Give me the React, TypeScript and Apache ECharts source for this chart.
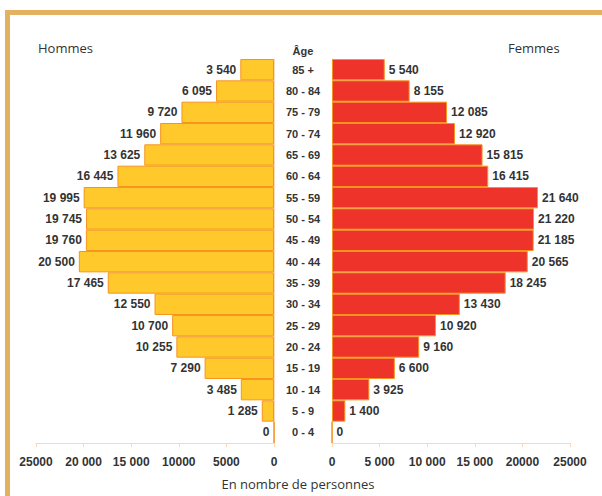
import React, { useEffect, useRef } from "react";
import * as echarts from "echarts";

const ageGroups = ["0 - 4", "5 - 9", "10 - 14", "15 - 19", "20 - 24", "25 - 29", "30 - 34", "35 - 39", "40 - 44", "45 - 49", "50 - 54", "55 - 59", "60 - 64", "65 - 69", "70 - 74", "75 - 79", "80 - 84", "85 +"];
const hommes = [0, 1285, 3485, 7290, 10255, 10700, 12550, 17465, 20500, 19760, 19745, 19995, 16445, 13625, 11960, 9720, 6095, 3540];
const femmes = [0, 1400, 3925, 6600, 9160, 10920, 13430, 18245, 20565, 21185, 21220, 21640, 16415, 15815, 12920, 12085, 8155, 5540];
const leftTickLabels = ["0", "5000", "10000", "15 000", "20 000", "25000"];
const rightTickLabels = ["0", "5 000", "10 000", "15 000", "20000", "25000"];

const fmt = (v: number) => {
  const s = String(v);
  return s.length > 3 ? s.slice(0, s.length - 3) + " " + s.slice(-3) : s;
};

const LABEL_FONT = "'Liberation Sans', Arial, sans-serif";
const TEXT_FONT = "'Open Sans', 'Noto Sans', sans-serif";
const AXIS_COLOR = "#FCD7BD";

export default function App() {
  const ref = useRef<HTMLDivElement>(null);
  useEffect(() => {
    if (!ref.current) return;
    const chart = echarts.init(ref.current, undefined, { renderer: "svg" });
    const valueAxisCommon = {
      type: "value" as const,
      min: 0,
      max: 25000,
      interval: 5000,
      splitLine: { show: false },
      axisLine: { show: true, lineStyle: { color: AXIS_COLOR, width: 1 } },
      axisTick: { show: true, length: 4, lineStyle: { color: AXIS_COLOR } },
    };
    const catAxisCommon = {
      type: "category" as const,
      data: ageGroups,
      axisTick: { show: false },
      axisLine: { show: true, lineStyle: { color: AXIS_COLOR } },
    };
    const tickLabelStyle = {
      margin: 13,
      color: "#333",
      fontFamily: LABEL_FONT,
      fontWeight: "bold" as const,
      fontSize: 12,
    };
    const valueLabelStyle = {
      show: true,
      distance: 4,
      color: "#333",
      fontFamily: LABEL_FONT,
      fontWeight: "bold" as const,
      fontSize: 12,
      formatter: (p: any) => fmt(p.value),
    };
    chart.setOption({
      animation: false,
      backgroundColor: "#ffffff",
      grid: [
        { left: 36, right: 328, top: 59, bottom: 53 },
        { left: 332, right: 32, top: 59, bottom: 53 },
      ],
      xAxis: [
        {
          ...valueAxisCommon,
          gridIndex: 0,
          inverse: true,
          axisLabel: { ...tickLabelStyle, formatter: (v: number) => leftTickLabels[Math.round(v / 5000)] },
        },
        {
          ...valueAxisCommon,
          gridIndex: 1,
          axisLabel: { ...tickLabelStyle, formatter: (v: number) => rightTickLabels[Math.round(v / 5000)] },
        },
      ],
      yAxis: [
        {
          ...catAxisCommon,
          gridIndex: 0,
          position: "right",
          axisLabel: { show: false },
        },
        {
          ...catAxisCommon,
          gridIndex: 1,
          position: "left",
          axisLabel: {
            show: true,
            align: "center",
            margin: 29,
            color: "#333",
            fontFamily: LABEL_FONT,
            fontWeight: "bold",
            fontSize: 11,
          },
        },
      ],
      series: [
        {
          name: "Hommes",
          type: "bar",
          xAxisIndex: 0,
          yAxisIndex: 0,
          data: hommes,
          barCategoryGap: "0%",
          itemStyle: { color: "#FFC92B", borderColor: "#F7941E", borderWidth: 1 },
          label: { ...valueLabelStyle, position: "left" },
        },
        {
          name: "Femmes",
          type: "bar",
          xAxisIndex: 1,
          yAxisIndex: 1,
          data: femmes,
          barCategoryGap: "0%",
          itemStyle: { color: "#EE332A", borderColor: "#F7941E", borderWidth: 1 },
          label: { ...valueLabelStyle, position: "right" },
        },
      ],
      graphic: [
        { type: "rect", shape: { x: 5, y: 10, width: 597, height: 5 }, style: { fill: "#E3B15F" } },
        { type: "rect", shape: { x: 5, y: 10, width: 5, height: 486 }, style: { fill: "#E3B15F" } },
        {
          type: "text",
          x: 38,
          y: 48,
          style: { text: "Hommes", fill: "#333", font: `13px ${TEXT_FONT}`, textVerticalAlign: "middle" },
        },
        {
          type: "text",
          x: 508,
          y: 48,
          style: { text: "Femmes", fill: "#333", font: `13px ${TEXT_FONT}`, textVerticalAlign: "middle" },
        },
        {
          type: "text",
          x: 303,
          y: 51,
          style: { text: "Âge", fill: "#333", font: `bold 11px ${LABEL_FONT}`, textAlign: "center", textVerticalAlign: "middle" },
        },
        {
          type: "text",
          x: 298,
          y: 484,
          style: { text: "En nombre de personnes", fill: "#333", font: `13px ${TEXT_FONT}`, textAlign: "center", textVerticalAlign: "middle" },
        },
      ],
    });
    return () => chart.dispose();
  }, []);
  return <div ref={ref} style={{ position: "fixed", left: 0, top: 0, width: 602, height: 496 }} />;
}
